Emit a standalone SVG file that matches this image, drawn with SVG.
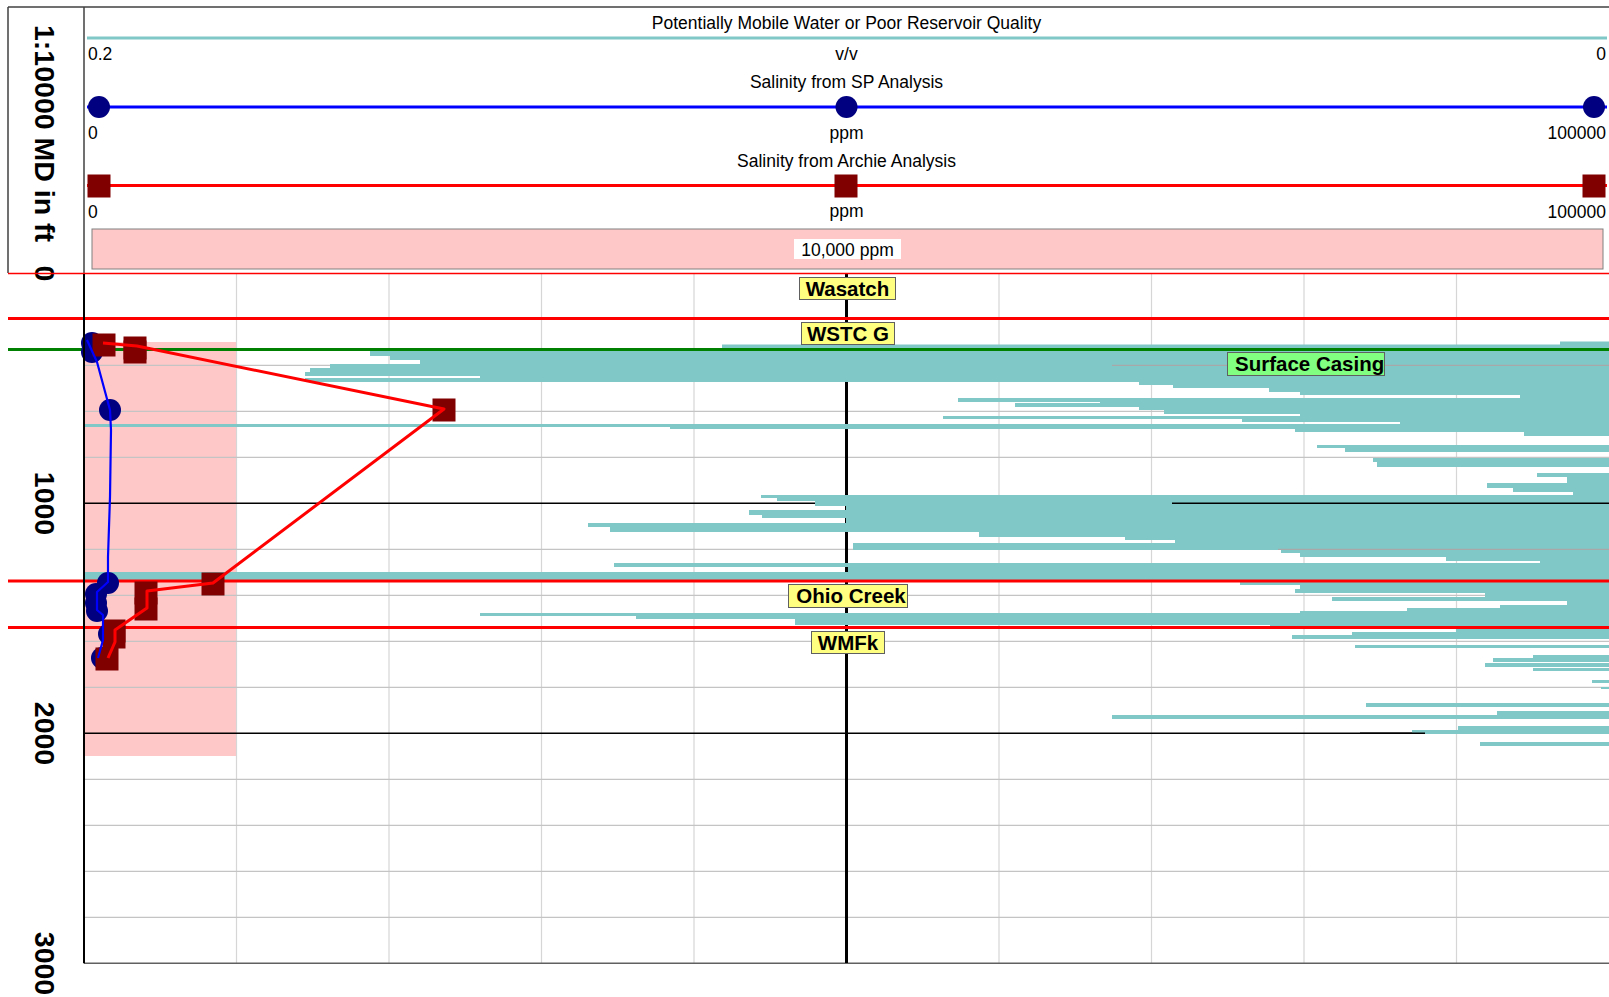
<svg xmlns="http://www.w3.org/2000/svg" width="1609" height="997" viewBox="0 0 1609 997">
<style>
text{font-family:"Liberation Sans",Arial,sans-serif;fill:#000}
.h{font-size:17.5px}
.d{font-size:28.5px;font-weight:bold}
.lb{font-size:20.5px;font-weight:bold}
.box{stroke:#606060;stroke-width:1}
.minor{stroke:#c4c4c4;stroke-width:1.3}
.vgrid{stroke:#d6d6d6;stroke-width:1.2}
.major{stroke:#000;stroke-width:1.4}
.top{stroke:#ff0000;stroke-width:3}
.sq{fill:#800000}
.ci{fill:#000080}
</style>
<defs>
<rect id="sqm" x="-11.5" y="-11.5" width="23" height="23" class="sq"/>
<circle id="cim" r="11" class="ci"/>
</defs>
<rect width="1609" height="997" fill="#fff"/>

<g id="header">
<line x1="8" y1="7" x2="1609" y2="7" stroke="#404040" stroke-width="1.5"/>
<line x1="8" y1="7" x2="8" y2="273" stroke="#404040" stroke-width="1.5"/>
<line x1="84" y1="7" x2="84" y2="273" stroke="#404040" stroke-width="1.5"/>
<text class="h" x="846.5" y="29" text-anchor="middle">Potentially Mobile Water or Poor Reservoir Quality</text>
<line x1="87" y1="38" x2="1607" y2="38" stroke="#80c8c8" stroke-width="3"/>
<text class="h" x="88" y="60">0.2</text>
<text class="h" x="846.5" y="59.5" text-anchor="middle">v/v</text>
<text class="h" x="1606" y="60" text-anchor="end">0</text>
<text class="h" x="846.5" y="88" text-anchor="middle">Salinity from SP Analysis</text>
<line x1="87" y1="107" x2="1607" y2="107" stroke="#0000ff" stroke-width="3"/>
<use href="#cim" x="99" y="107"/>
<use href="#cim" x="846.5" y="107"/>
<use href="#cim" x="1594" y="107"/>
<text class="h" x="88" y="139">0</text>
<text class="h" x="846.5" y="138.5" text-anchor="middle">ppm</text>
<text class="h" x="1606" y="139" text-anchor="end">100000</text>
<text class="h" x="846.5" y="166.5" text-anchor="middle">Salinity from Archie Analysis</text>
<line x1="87" y1="185.5" x2="1607" y2="185.5" stroke="#ff0000" stroke-width="3"/>
<use href="#sqm" x="99" y="186"/>
<use href="#sqm" x="846" y="186"/>
<use href="#sqm" x="1594" y="186"/>
<text class="h" x="88" y="217.5">0</text>
<text class="h" x="846.5" y="217" text-anchor="middle">ppm</text>
<text class="h" x="1606" y="217.5" text-anchor="end">100000</text>
<rect x="92" y="229" width="1511" height="40" fill="#ffc8c8" stroke="#808080" stroke-width="1"/>
<rect x="794" y="239" width="107" height="20" fill="#fff"/>
<text class="h" x="847.5" y="256" text-anchor="middle">10,000 ppm</text>
</g>

<g id="depth-scale">
<text class="d" transform="translate(35,25) rotate(90)">1:10000 MD in ft</text>
<text class="d" transform="translate(35,273.5) rotate(90)" text-anchor="middle">0</text>
<text class="d" transform="translate(35,503.5) rotate(90)" text-anchor="middle">1000</text>
<text class="d" transform="translate(35,733.5) rotate(90)" text-anchor="middle">2000</text>
<text class="d" transform="translate(35,963.5) rotate(90)" text-anchor="middle">3000</text>
</g>

<g id="shading">
<rect x="84" y="342" width="152.5" height="414" fill="#ffc8c8"/>
</g>

<g id="grid">
<g class="vgrid">
<line x1="236.5" y1="274" x2="236.5" y2="963"/>
<line x1="389" y1="274" x2="389" y2="963"/>
<line x1="541.5" y1="274" x2="541.5" y2="963"/>
<line x1="694" y1="274" x2="694" y2="963"/>
<line x1="999" y1="274" x2="999" y2="963"/>
<line x1="1151.5" y1="274" x2="1151.5" y2="963"/>
<line x1="1304" y1="274" x2="1304" y2="963"/>
<line x1="1456.5" y1="274" x2="1456.5" y2="963"/>
</g>
<g class="minor">
<line x1="84" y1="319.3" x2="1609" y2="319.3"/>
<line x1="84" y1="365.3" x2="1609" y2="365.3"/>
<line x1="84" y1="411.3" x2="1609" y2="411.3"/>
<line x1="84" y1="457.3" x2="1609" y2="457.3"/>
<line x1="84" y1="549.3" x2="1609" y2="549.3"/>
<line x1="84" y1="595.3" x2="1609" y2="595.3"/>
<line x1="84" y1="641.3" x2="1609" y2="641.3"/>
<line x1="84" y1="687.3" x2="1609" y2="687.3"/>
<line x1="84" y1="779.3" x2="1609" y2="779.3"/>
<line x1="84" y1="825.3" x2="1609" y2="825.3"/>
<line x1="84" y1="871.3" x2="1609" y2="871.3"/>
<line x1="84" y1="917.3" x2="1609" y2="917.3"/>
</g>
<line class="major" x1="84" y1="503.3" x2="1609" y2="503.3"/>
<line class="major" x1="84" y1="733.3" x2="1609" y2="733.3"/>
<line x1="84" y1="963.3" x2="1609" y2="963.3" stroke="#606060" stroke-width="1.5"/>
<line x1="846.5" y1="274" x2="846.5" y2="963" stroke="#000" stroke-width="3"/>
</g>

<g id="mobile-water-fill">
<path fill="#80c8c8" d="M1560 341.5H1609V344.5H1560Z M722 344.5H1609V349H722Z M370 349H1609V356H370Z M390 356H1609V360H390Z M420 360H1609V364H420Z M330 364H1609V368H330Z M310 368H1609V372H310Z M305 372H1609V376H305Z M480 376H1609V378H480Z M305 378H1609V382H305Z M1139 382H1609V385H1139Z M1173 385H1609V388H1173Z M1269 388H1609V392H1269Z M1300 392H1609V395H1300Z M1520 395H1609V398H1520Z M958 398H1609V402H958Z M1100 402H1609V403H1100Z M1015 403H1609V407H1015Z M1139 407H1609V410H1139Z M1164 410H1609V414H1164Z M1300 414H1609V416H1300Z M943 416H1609V419H943Z M1242 419H1609V422H1242Z M1400 422H1609V424H1400Z M84 424H1609V427H84Z M670 427H1609V429H670Z M1295 429H1609V432H1295Z M1524 432H1609V436H1524Z M1317 445H1609V448H1317Z M1345 448H1609V452H1345Z M1373 458H1609V462H1373Z M1377 462H1609V467H1377Z M1537 473H1609V477H1537Z M1567 477H1609V483H1567Z M1487 483H1609V488H1487Z M1513 488H1609V492H1513Z M1573 492H1609V495H1573Z M761 495H1609V498H761Z M777 498H1609V501H777Z M815 501H1609V506H815Z M846 506H1609V510H846Z M749 510H1609V515H749Z M762 515H1609V518H762Z M846 518H1609V523H846Z M588 523H1609V527H588Z M610 527H1609V532H610Z M979 532H1609V537H979Z M1125 537H1609V540H1125Z M1175 540H1609V543H1175Z M853 543H1609V550H853Z M1281 550H1609V553H1281Z M1300 553H1609V557H1300Z M1446 557H1609V561H1446Z M1540 561H1609V563H1540Z M614 563H1609V567H614Z M848 567H1609V572H848Z M84 572H1609V581H84Z M1240 581H1609V585H1240Z M1300 585H1609V589H1300Z M1295 589H1609V593H1295Z M1485 593H1609V597H1485Z M1332 597H1609V601H1332Z M1567 601H1609V605H1567Z M1500 605H1609V608H1500Z M1407 608H1609V611H1407Z M1300 611H1609V613H1300Z M480 613H1609V616H480Z M636 616H1609V619H636Z M795 619H1609V625H795Z M1270 625H1609V629H1270Z M1456 629H1609V632H1456Z M1352 632H1609V635H1352Z M1292 635H1609V639H1292Z M1355 645H1609V648H1355Z M1533 655H1609V658H1533Z M1493 658H1609V662H1493Z M1485 663H1609V667H1485Z M1533 668H1609V671H1533Z M1592 680H1609V683H1592Z M1601 687H1609V689H1601Z M1366 703H1609V707H1366Z M1497 711H1609V715H1497Z M1112 715H1609V719H1112Z M1458 726H1609V730H1458Z M1412 730H1609V734H1412Z M1480 742H1609V746H1480Z"/>
<line class="major" x1="1172" y1="503.3" x2="1609" y2="503.3"/>
<line class="major" x1="1360" y1="733.3" x2="1425" y2="733.3"/>
<line x1="1112" y1="365.3" x2="1609" y2="365.3" stroke="#a8a8a8" stroke-width="1.2"/>
<line x1="1278" y1="549.3" x2="1609" y2="549.3" stroke="#a8a8a8" stroke-width="1.2"/>
</g>

<g id="formation-tops">
<line x1="8" y1="273.5" x2="1609" y2="273.5" stroke="#ff0000" stroke-width="1.5"/>
<line class="top" x1="8" y1="318.5" x2="1609" y2="318.5"/>
<line x1="8" y1="349.5" x2="1609" y2="349.5" stroke="#008000" stroke-width="3"/>
<line class="top" x1="8" y1="581" x2="1609" y2="581"/>
<line class="top" x1="8" y1="627.5" x2="1609" y2="627.5"/>
</g>

<g id="sp-salinity-points">
<use href="#cim" x="92" y="343"/>
<use href="#cim" x="92" y="352"/>
<use href="#cim" x="110" y="410"/>
<use href="#cim" x="108" y="583"/>
<use href="#cim" x="96" y="594"/>
<use href="#cim" x="96" y="603"/>
<use href="#cim" x="97" y="611"/>
<use href="#cim" x="109" y="634"/>
<use href="#cim" x="102" y="658"/>
</g>
<g id="archie-salinity-points">
<use href="#sqm" x="104" y="345"/>
<use href="#sqm" x="135" y="348"/>
<use href="#sqm" x="135" y="352"/>
<use href="#sqm" x="444" y="410"/>
<use href="#sqm" x="213" y="584"/>
<use href="#sqm" x="146" y="593"/>
<use href="#sqm" x="146" y="609"/>
<use href="#sqm" x="114" y="631"/>
<use href="#sqm" x="114" y="637"/>
<use href="#sqm" x="107" y="659"/>
</g>
<g id="connectors" fill="none" stroke-linejoin="round">
<polyline stroke="#0000ff" stroke-width="2.2" points="87,340 97,362 110,410 111,430 110,497 108,557 108,582 97,592 97,610 103,615 103,640 98,658"/>
<polyline stroke="#ff0000" stroke-width="3" points="103,343 137,346 444,409 213,583 147,591 147,608 115,630 115,642 108,658"/>
</g>

<line x1="84" y1="274" x2="84" y2="963.3" stroke="#000" stroke-width="2"/>

<g id="label-wasatch">
<rect class="box" x="799.5" y="277.5" width="96" height="22" fill="#ffff80"/>
<text class="lb" x="847.5" y="295.5" text-anchor="middle">Wasatch</text>
</g>
<g id="label-wstc-g">
<rect class="box" x="801.5" y="322.5" width="93" height="22" fill="#ffff80"/>
<text class="lb" x="848" y="340.5" text-anchor="middle">WSTC G</text>
</g>
<g id="label-surface-casing">
<rect class="box" x="1227.5" y="352.5" width="157" height="23" fill="#80ff80"/>
<text class="lb" x="1235" y="371">Surface Casing</text>
</g>
<g id="label-ohio-creek">
<rect class="box" x="788.5" y="584.5" width="119" height="23" fill="#ffff80"/>
<text class="lb" x="851" y="603" text-anchor="middle">Ohio Creek</text>
</g>
<g id="label-wmfk">
<rect class="box" x="811.5" y="631.5" width="73" height="22" fill="#ffff80"/>
<text class="lb" x="848" y="649.5" text-anchor="middle">WMFk</text>
</g>
</svg>
